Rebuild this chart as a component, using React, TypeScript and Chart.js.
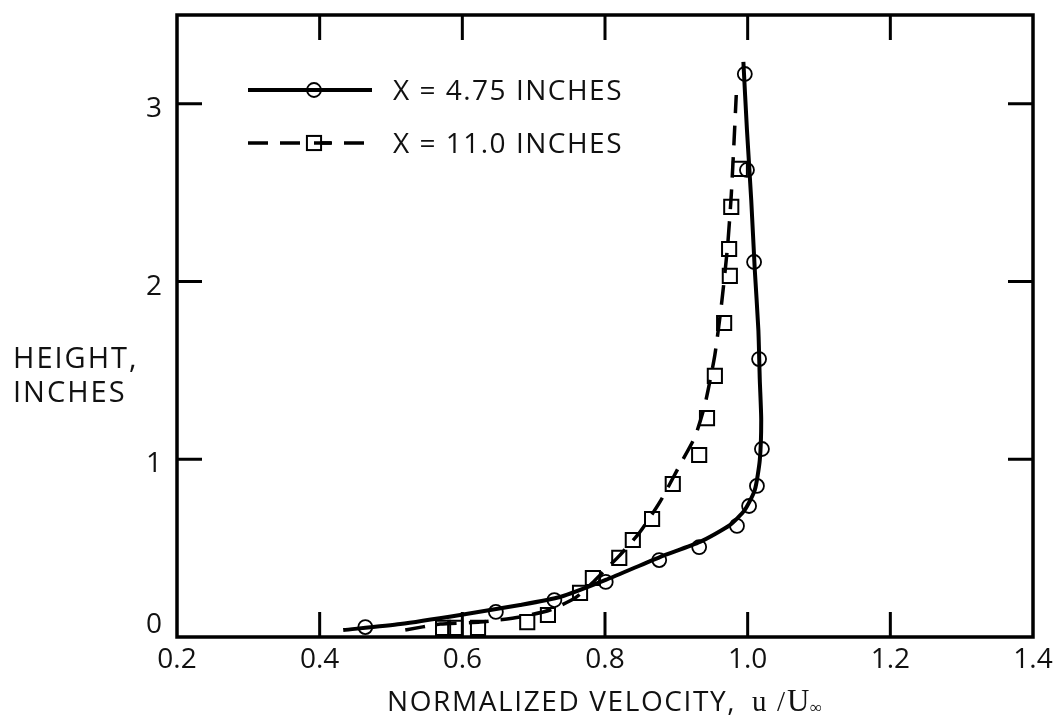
import { useEffect, useRef } from 'react';
import { Chart, registerables } from 'chart.js';
Chart.register(...registerables);

const xTicks = [0.2, 0.4, 0.6, 0.8, 1.0, 1.2, 1.4];
const yTicks = [0, 1, 2, 3];
const xMin = 0.2;
const xMax = 1.4;
const yMin = 0;
const yMax = 3.5;

const seriesLabels = ['X = 4.75 INCHES', 'X = 11.0 INCHES'];
const yTitleLines = ['HEIGHT,', 'INCHES'];
const xTitleSans = 'NORMALIZED VELOCITY,';

// X = 4.75 inches: measured points
const u475 = [0.464, 0.647, 0.729, 0.801, 0.876, 0.932, 0.985, 1.002, 1.013, 1.020, 1.016, 1.009, 0.999, 0.996];
const h475 = [0.056, 0.141, 0.208, 0.310, 0.433, 0.506, 0.625, 0.737, 0.850, 1.058, 1.564, 2.110, 2.628, 3.168];
// X = 4.75 inches: faired curve
const fitU475 = [0.433, 0.513, 0.597, 0.681, 0.737, 0.801, 0.877, 0.933, 0.975, 0.996, 1.010, 1.017, 1.019, 1.017, 1.015, 1.010, 1.005, 0.999, 0.994];
const fitH475 = [0.039, 0.073, 0.124, 0.180, 0.225, 0.321, 0.450, 0.535, 0.630, 0.715, 0.827, 0.996, 1.221, 1.446, 1.728, 2.065, 2.459, 2.853, 3.236];

// X = 11.0 inches: measured points
const u110 = [0.573, 0.590, 0.622, 0.691, 0.720, 0.765, 0.783, 0.820, 0.839, 0.866, 0.895, 0.932, 0.943, 0.954, 0.967, 0.975, 0.974, 0.977, 0.989];
const h110 = [0.051, 0.051, 0.051, 0.084, 0.124, 0.248, 0.332, 0.445, 0.546, 0.664, 0.861, 1.024, 1.232, 1.469, 1.767, 2.032, 2.183, 2.420, 2.634];
// X = 11.0 inches: faired curve
const fitU110 = [0.520, 0.569, 0.625, 0.681, 0.723, 0.758, 0.782, 0.800, 0.821, 0.849, 0.877, 0.905, 0.926, 0.940, 0.954, 0.964, 0.972, 0.977, 0.981, 0.984];
const fitH110 = [0.039, 0.073, 0.084, 0.113, 0.152, 0.219, 0.304, 0.377, 0.461, 0.591, 0.760, 0.968, 1.125, 1.306, 1.587, 1.896, 2.206, 2.487, 2.797, 3.050];

const SANS = '"Open Sans", "Noto Sans", sans-serif';
const SERIF = '"Liberation Serif", "DejaVu Serif", serif';

const pts = (xs: number[], ys: number[]) => xs.map((x, i) => ({ x, y: ys[i] }));

const decorPlugin = {
  id: 'decor',
  afterDatasetsDraw(chart: any) {
    const { ctx, chartArea: a, scales } = chart;
    const xs = scales.x;
    const ys = scales.y;
    ctx.save();
    ctx.strokeStyle = '#000';
    ctx.lineCap = 'butt';
    ctx.lineWidth = 3.5;
    ctx.strokeRect(a.left, a.top, a.right - a.left, a.bottom - a.top);
    const L = 25;
    ctx.lineWidth = 3;
    ctx.beginPath();
    xTicks.forEach((v) => {
      if (v <= xMin || v >= xMax) return;
      const px = xs.getPixelForValue(v);
      ctx.moveTo(px, a.bottom);
      ctx.lineTo(px, a.bottom - L);
      ctx.moveTo(px, a.top);
      ctx.lineTo(px, a.top + L);
    });
    yTicks.forEach((v) => {
      if (v <= yMin || v >= yMax) return;
      const py = ys.getPixelForValue(v);
      ctx.moveTo(a.left, py);
      ctx.lineTo(a.left + L, py);
      ctx.moveTo(a.right, py);
      ctx.lineTo(a.right - L, py);
    });
    ctx.stroke();

    // legend (inside plot, top-left)
    const ds = chart.data.datasets;
    const rows = [
      { line: ds[0], mark: ds[1], y: 90, base: 100 },
      { line: ds[2], mark: ds[3], y: 143, base: 153 },
    ];
    rows.forEach((r, i) => {
      ctx.save();
      ctx.strokeStyle = '#000';
      ctx.lineWidth = r.line.borderWidth;
      ctx.setLineDash(r.line.borderDash || []);
      ctx.beginPath();
      ctx.moveTo(248, r.y);
      ctx.lineTo(372, r.y);
      ctx.stroke();
      ctx.setLineDash([]);
      ctx.lineWidth = r.mark.borderWidth;
      ctx.fillStyle = '#fff';
      if (r.mark.pointStyle === 'circle') {
        ctx.beginPath();
        ctx.arc(314, r.y, r.mark.pointRadius, 0, Math.PI * 2);
        ctx.stroke();
      } else {
        const s = r.mark.pointRadius * Math.SQRT1_2;
        ctx.fillRect(314 - s, r.y - s, 2 * s, 2 * s);
        ctx.strokeRect(314 - s, r.y - s, 2 * s, 2 * s);
        ctx.beginPath();
        ctx.lineWidth = r.line.borderWidth;
        ctx.moveTo(314, r.y);
        ctx.lineTo(314 + s + 10, r.y);
        ctx.stroke();
      }
      ctx.fillStyle = '#111';
      ctx.font = `28px ${SANS}`;
      (ctx as any).letterSpacing = '1.5px';
      ctx.textBaseline = 'alphabetic';
      ctx.textAlign = 'left';
      ctx.fillText(seriesLabels[i], 393, r.base);
      ctx.restore();
    });
    ctx.restore();
  },
  afterDraw(chart: any) {
    const { ctx } = chart;
    ctx.save();
    ctx.fillStyle = '#111';
    ctx.textAlign = 'left';
    ctx.textBaseline = 'alphabetic';
    ctx.font = `29px ${SANS}`;
    (ctx as any).letterSpacing = '2px';
    ctx.fillText(yTitleLines[0], 13, 368);
    ctx.fillText(yTitleLines[1], 13, 402);
    ctx.font = `28px ${SANS}`;
    (ctx as any).letterSpacing = '1.6px';
    ctx.fillText(xTitleSans, 387, 711);
    (ctx as any).letterSpacing = '0px';
    ctx.font = `29px ${SERIF}`;
    ctx.fillText('u', 752, 711);
    ctx.fillText('/', 777, 711);
    ctx.font = `31px ${SERIF}`;
    ctx.fillText('U', 787, 711);
    ctx.font = `17px ${SERIF}`;
    ctx.fillText('\u221E', 810, 713);
    ctx.restore();
  },
};

export default function App() {
  const ref = useRef<HTMLCanvasElement>(null);
  useEffect(() => {
    if (!ref.current) return;
    const chart = new Chart(ref.current, {
      type: 'scatter',
      data: {
        datasets: [
          {
            label: seriesLabels[0] + ' curve',
            data: pts(fitU475, fitH475),
            showLine: true,
            borderColor: '#000',
            borderWidth: 4,
            pointRadius: 0,
            tension: 0.2,
            pointStyle: 'line',
          } as any,
          {
            label: seriesLabels[0],
            data: pts(u475, h475),
            showLine: false,
            pointStyle: 'circle',
            pointRadius: 7,
            borderWidth: 1.8,
            borderColor: '#000',
            backgroundColor: 'rgba(0,0,0,0)',
          },
          {
            label: seriesLabels[1] + ' curve',
            data: pts(fitU110, fitH110),
            showLine: true,
            borderColor: '#000',
            borderWidth: 3.5,
            borderDash: [20, 12],
            pointRadius: 0,
            tension: 0.2,
            pointStyle: 'line',
          } as any,
          {
            label: seriesLabels[1],
            data: pts(u110, h110),
            showLine: false,
            pointStyle: 'rect',
            pointRadius: 10,
            borderWidth: 2,
            borderColor: '#000',
            backgroundColor: 'rgba(0,0,0,0)',
          },
        ],
      },
      options: {
        animation: false,
        responsive: false,
        layout: { padding: { top: 15, right: 28, left: 0, bottom: 0 } },
        plugins: { legend: { display: false }, tooltip: { enabled: false }, title: { display: false } },
        scales: {
          x: {
            type: 'linear',
            min: xMin,
            max: xMax,
            grid: { display: false, drawTicks: false },
            border: { display: false },
            afterBuildTicks: (s: any) => {
              s.ticks = xTicks.map((v) => ({ value: v }));
            },
            afterFit: (s: any) => {
              s.height = 81;
              s.paddingLeft = 0;
              s.paddingRight = 0;
            },
            ticks: {
              color: '#111',
              font: { family: SANS, size: 28 },
              padding: 6,
              maxRotation: 0,
              autoSkip: false,
              callback: (v: any) => Number(v).toFixed(1),
            },
          },
          y: {
            type: 'linear',
            min: yMin,
            max: yMax,
            grid: { display: false, drawTicks: false },
            border: { display: false },
            afterBuildTicks: (s: any) => {
              s.ticks = yTicks.map((v) => ({ value: v }));
            },
            afterFit: (s: any) => {
              s.width = 177;
              s.paddingTop = 0;
              s.paddingBottom = 0;
            },
            ticks: {
              color: '#111',
              font: { family: SANS, size: 28 },
              padding: 15,
              labelOffset: 5,
              autoSkip: false,
              callback: (v: any) => (Number(v) === 0 ? ['0', ''] : String(v)),
            },
          },
        },
      },
      plugins: [decorPlugin],
    });
    return () => chart.destroy();
  }, []);
  return (
    <div style={{ position: 'fixed', left: 0, top: 0, width: 1061, height: 718, background: '#fff' }}>
      <canvas ref={ref} width={1061} height={718} style={{ display: 'block', width: 1061, height: 718 }} />
    </div>
  );
}
